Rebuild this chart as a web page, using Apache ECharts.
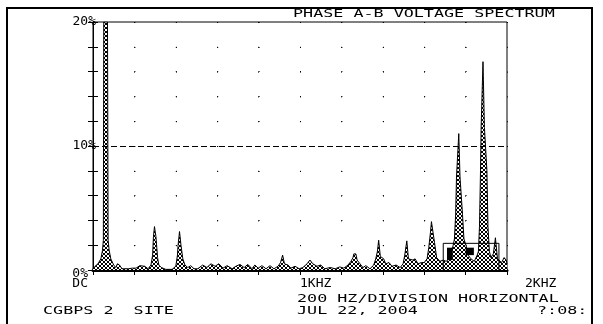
<!DOCTYPE html>
<html>
<head>
<meta charset="utf-8">
<script src="https://cdn.jsdelivr.net/npm/echarts@6/dist/echarts.min.js"></script>
<style>
  html, body { margin: 0; padding: 0; background: #fff; }
  #chart { width: 603px; height: 324px; }
</style>
</head>
<body>
<div id="chart"></div>
<script>
// spectrum trace, frequency in Hz and level in % of fundamental
const freqHz = [
  0, 10, 24, 38, 46, 50, 52, 70, 73, 78, 86, 100, 110, 118, 128, 140, 170, 190, 208, 226,
  250, 266, 280, 288, 292, 296, 297, 303, 304, 308, 312, 318, 330, 352, 382, 400, 408, 411, 417, 418,
  424, 425, 430, 434, 444, 458, 472, 488, 506, 530, 550, 570, 590, 608, 628, 648, 672, 690, 710, 730,
  748, 768, 782, 798, 816, 836, 855, 874, 894, 906, 914, 916, 922, 925, 942, 956, 976, 996, 1014, 1034,
  1048, 1062, 1082, 1100, 1120, 1146, 1170, 1192, 1212, 1232, 1246, 1256, 1260, 1270, 1276, 1290, 1304, 1318, 1338, 1356,
  1366, 1374, 1378, 1380, 1386, 1388, 1404, 1414, 1430, 1444, 1464, 1484, 1498, 1506, 1514, 1516, 1522, 1524, 1546, 1556,
  1570, 1586, 1600, 1614, 1622, 1630, 1635, 1641, 1650, 1660, 1676, 1692, 1706, 1720, 1730, 1740, 1746, 1752, 1756, 1765,
  1767, 1771, 1773, 1780, 1785, 1792, 1802, 1812, 1826, 1842, 1856, 1862, 1867, 1872, 1875, 1882, 1884, 1889, 1891, 1899,
  1903, 1908, 1915, 1922, 1934, 1944, 1950, 1954, 1974, 1986, 1996, 2000
];
const levelPct = [
  0.1, 0.3, 0.5, 0.9, 1.6, 2.4, 20, 20, 2.4, 1.6, 0.9, 0.4, 0.2, 0.5, 0.4, 0.1, 0.1, 0.15, 0.15, 0.35,
  0.3, 0.1, 0.4, 1.2, 2.7, 2.7, 3.5, 3.5, 2.7, 2.7, 1.0, 0.4, 0.2, 0.05, 0.05, 0.3, 1.2, 2.0, 2.0, 3.1,
  3.1, 2.0, 2.0, 0.9, 0.4, 0.2, 0.35, 0.1, 0.1, 0.4, 0.2, 0.5, 0.3, 0.5, 0.15, 0.35, 0.1, 0.3, 0.45, 0.2,
  0.45, 0.1, 0.4, 0.15, 0.35, 0.1, 0.35, 0.1, 0.3, 0.6, 0.6, 1.2, 1.2, 0.5, 0.4, 0.15, 0.3, 0.1, 0.2, 0.5,
  0.8, 0.5, 0.3, 0.4, 0.1, 0.2, 0.1, 0.25, 0.15, 0.4, 0.7, 1.0, 1.3, 1.3, 0.8, 0.5, 0.2, 0.35, 0.1, 0.4,
  0.9, 1.5, 1.5, 2.4, 2.4, 1.1, 0.9, 0.5, 0.6, 0.3, 0.4, 0.2, 0.5, 1.2, 1.2, 2.35, 2.35, 0.9, 0.8, 0.9,
  0.5, 0.6, 0.6, 0.9, 1.8, 3.0, 3.9, 3.9, 2.2, 1.0, 0.7, 0.8, 0.7, 0.9, 1.3, 2.0, 2.5, 4.5, 7.5, 7.5,
  11.0, 11.0, 7.5, 7.5, 4.5, 2.5, 2.0, 1.2, 0.9, 0.7, 1.2, 1.5, 3.5, 8.0, 11.5, 11.5, 16.8, 16.8, 11.5, 11.5,
  8.0, 3.5, 1.5, 1.0, 1.3, 2.6, 2.6, 0.9, 0.6, 1.0, 0.8, 0.5
];

// marker box drawn on the screen
const boxHz = [1692, 1692, 1961, 1961];
const boxPct = [0, 2.15, 2.15, 0];

// solid blocks inside the marker box: centre, half width (Hz), bottom and top (%)
const blockHz = [1724, 1820];
const blockHalfHz = [14, 20];
const blockLow = [0.8, 1.2];
const blockHigh = [1.8, 1.8];

// tick labels
const yLabelValues = [0, 10, 20];
const yLabelTexts = ['0%', '10%', '20%'];
const xLabelValues = [1000, 2000];
const xLabelTexts = ['1KHZ', '2KHZ'];

const FONT = 'DejaVu Sans Mono';

// small ring tile for the filled trace
function hatch() {
  const rows = ['.##.', '#..#', '#..#', '.##.'];
  const c = document.createElement('canvas');
  c.width = 4; c.height = 4;
  const g = c.getContext('2d');
  g.fillStyle = '#fff';
  g.fillRect(0, 0, 4, 4);
  g.fillStyle = '#000';
  rows.forEach((r, y) => {
    for (let x = 0; x < 4; x++) if (r[x] === '#') g.fillRect(x, y, 1, 1);
  });
  return c;
}

const chart = echarts.init(document.getElementById('chart'), null, { renderer: 'canvas' });

const trace = freqHz.map((f, i) => [f, levelPct[i]]);
const box = boxHz.map((f, i) => [f, boxPct[i]]);
const blocks = blockHz.map((f, i) => [f, blockHalfHz[i], blockLow[i], blockHigh[i]]);

function screenText(text, x, y) {
  return {
    type: 'text', x: x, y: y, scaleX: 1.52, silent: true,
    style: { text: text, fill: '#000', font: '11px "' + FONT + '"', textVerticalAlign: 'middle' }
  };
}

chart.setOption({
  animation: false,
  backgroundColor: '#fff',
  textStyle: { fontFamily: FONT, color: '#000' },
  grid: { left: 93, right: 96, top: 22, bottom: 54, show: true, borderColor: '#000', borderWidth: 1 },
  xAxis: [
    {
      type: 'value', min: 0, max: 2000, interval: 200,
      axisLine: { lineStyle: { color: '#000', width: 3 } },
      axisTick: { show: false },
      splitLine: { show: true, lineStyle: { color: '#000', width: 1, type: [1, 23.8] } },
      axisLabel: {
        color: '#000', fontFamily: FONT, fontSize: 13, align: 'left', margin: 7,
        showMaxLabel: true, showMinLabel: true,
        formatter: (v) => {
          const i = xLabelValues.indexOf(v);
          if (i < 0) return '';
          return v === 2000 ? '{r|' + xLabelTexts[i] + '}' : xLabelTexts[i];
        },
        rich: { r: { fontFamily: FONT, fontSize: 13, color: '#000', padding: [0, 0, 0, 18] } }
      }
    },
    {
      type: 'value', position: 'top', min: 0, max: 2000, interval: 200,
      axisLine: { show: false },
      axisTick: { show: true, inside: true, length: 5, lineStyle: { color: '#000' } },
      axisLabel: { show: false },
      splitLine: { show: false }
    }
  ],
  yAxis: [
    {
      type: 'value', min: 0, max: 20, interval: 2,
      axisLine: { show: true, lineStyle: { color: '#000' } },
      axisTick: { show: true, inside: true, length: 5, lineStyle: { color: '#000' } },
      splitLine: { show: true, lineStyle: { color: '#000', width: 1, type: [1, 40.4] } },
      axisLabel: {
        color: '#000', fontFamily: FONT, fontSize: 13, margin: -3,
        showMaxLabel: true, showMinLabel: true,
        formatter: (v) => {
          const i = yLabelValues.indexOf(v);
          if (i < 0) return '';
          if (v === 0) return '{e| }\n{z|' + yLabelTexts[i] + '}\n{z|DC}';
          return yLabelTexts[i];
        },
        rich: {
          e: { fontSize: 13, lineHeight: 18 },
          z: { fontFamily: FONT, fontSize: 13, lineHeight: 10, color: '#000', padding: [0, 8, 0, 0] }
        }
      }
    },
    {
      type: 'value', position: 'right', min: 0, max: 20, interval: 2,
      axisLine: { show: true, lineStyle: { color: '#000' } },
      axisTick: { show: true, inside: true, length: 5, lineStyle: { color: '#000' } },
      axisLabel: { show: false },
      splitLine: { show: false }
    }
  ],
  series: [
    {
      name: 'spectrum', type: 'line', data: trace, symbol: 'none', sampling: null,
      lineStyle: { color: '#000', width: 1 },
      areaStyle: { color: { image: hatch(), repeat: 'repeat' }, opacity: 1 },
      markLine: {
        silent: true, symbol: 'none', label: { show: false },
        lineStyle: { color: '#000', width: 1, type: [6, 3] },
        data: [{ yAxis: 10 }]
      },
      z: 2
    },
    {
      name: 'box', type: 'line', data: box, symbol: 'none',
      lineStyle: { color: '#000', width: 1 }, z: 3
    },
    {
      name: 'block', type: 'custom', data: blocks, z: 3,
      renderItem: (params, api) => {
        const c = api.value(0), h = api.value(1);
        const p1 = api.coord([c - h, api.value(3)]);
        const p2 = api.coord([c + h, api.value(2)]);
        return {
          type: 'rect',
          shape: { x: p1[0], y: p1[1], width: p2[0] - p1[0], height: p2[1] - p1[1] },
          style: { fill: '#000' }
        };
      }
    }
  ],
  graphic: [
    {
      type: 'rect', silent: true,
      shape: { x: 7, y: 8, width: 585, height: 340 },
      style: { fill: 'none', stroke: '#000', lineWidth: 2 }
    },
    screenText('PHASE A-B VOLTAGE SPECTRUM', 293, 14),
    screenText('200 HZ/DIVISION HORIZONTAL', 297, 299),
    screenText('JUL 22, 2004', 297, 311),
    screenText('?:08:', 537, 311),
    screenText('CGBPS 2  SITE', 43, 311)
  ]
});
</script>
</body>
</html>
